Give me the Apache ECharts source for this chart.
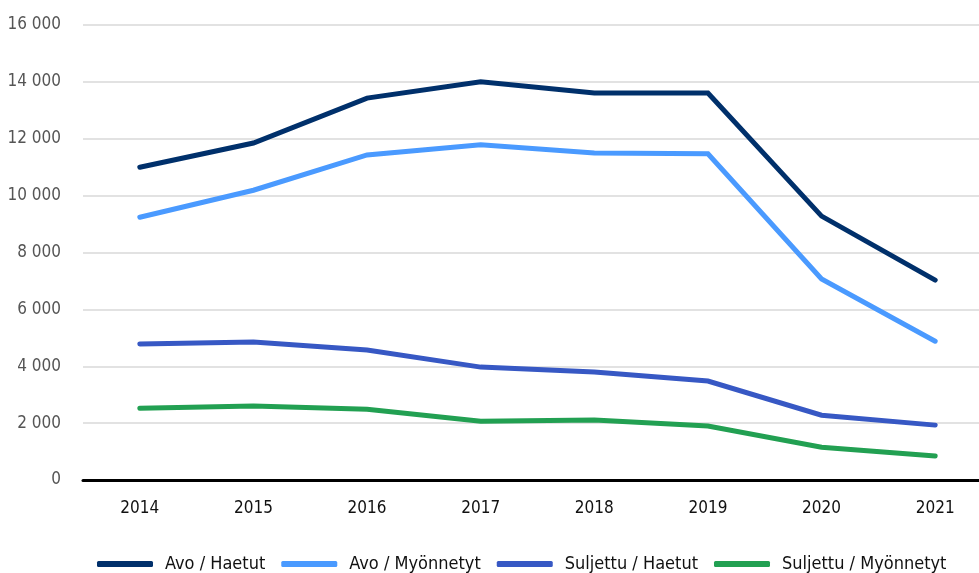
<!DOCTYPE html>
<html>
<head>
<meta charset="utf-8">
<script src="https://cdn.jsdelivr.net/npm/echarts@6/dist/echarts.min.js"></script>
<style>
  html, body { margin: 0; padding: 0; background: #fff; }
  #chart { width: 979px; height: 573px; }
</style>
</head>
<body>
<div id="chart"></div>
<script>
var years = ['2014', '2015', '2016', '2017', '2018', '2019', '2020', '2021'];
var avoHaetut = [11000, 11850, 13430, 14000, 13610, 13610, 9280, 7030];
var avoMyonnetyt = [9240, 10190, 11430, 11790, 11500, 11470, 7070, 4880];
var suljettuHaetut = [4780, 4850, 4570, 3970, 3800, 3480, 2280, 1930];
var suljettuMyonnetyt = [2520, 2600, 2490, 2070, 2110, 1900, 1150, 840];
var names = ['Avo / Haetut', 'Avo / Myönnetyt', 'Suljettu / Haetut', 'Suljettu / Myönnetyt'];
var colors = ['#00306b', '#4a9aff', '#3758c4', '#22a052'];

var font = '"Liberation Sans Narrow", "DejaVu Sans Condensed", sans-serif';

function fmt(v) {
    return String(v).replace(/\B(?=(\d{3})+(?!\d))/g, ' ');
}

function mkSeries(name, data, color) {
    return {
        name: name,
        type: 'line',
        data: data,
        symbol: 'none',
        color: color,
        lineStyle: { width: 5, color: color, cap: 'round', join: 'miter' }
    };
}

var chart = echarts.init(document.getElementById('chart'));
var option = {
    animation: false,
    color: colors,
    // plot runs past the right edge of the picture
    grid: { left: 83, width: 909, top: 25, bottom: 93, outerBoundsMode: 'none', containLabel: false },
    legend: {
        top: 550,
        left: 92,
        itemWidth: 56,
        itemHeight: 6,
        itemGap: 16,
        icon: 'roundRect',
        textStyle: { fontFamily: font, fontSize: 18, color: '#111', padding: [0, 0, 0, 7] },
        data: names
    },
    xAxis: {
        type: 'category',
        data: years,
        boundaryGap: true,
        axisLine: { lineStyle: { color: '#000', width: 3 } },
        axisTick: { show: false },
        axisLabel: { fontFamily: font, fontSize: 17, color: '#111', margin: 20 }
    },
    yAxis: {
        type: 'value',
        min: 0,
        max: 16000,
        interval: 2000,
        axisLine: { show: false },
        axisTick: { show: false },
        splitLine: { lineStyle: { color: '#d9d9d9', width: 1.5 } },
        axisLabel: {
            fontFamily: font, fontSize: 17, color: '#555', margin: 22,
            formatter: function (v) { return fmt(v); }
        }
    },
    series: [
        mkSeries(names[0], avoHaetut, colors[0]),
        mkSeries(names[1], avoMyonnetyt, colors[1]),
        mkSeries(names[2], suljettuHaetut, colors[2]),
        mkSeries(names[3], suljettuMyonnetyt, colors[3])
    ]
};
chart.setOption(option);
</script>
</body>
</html>
